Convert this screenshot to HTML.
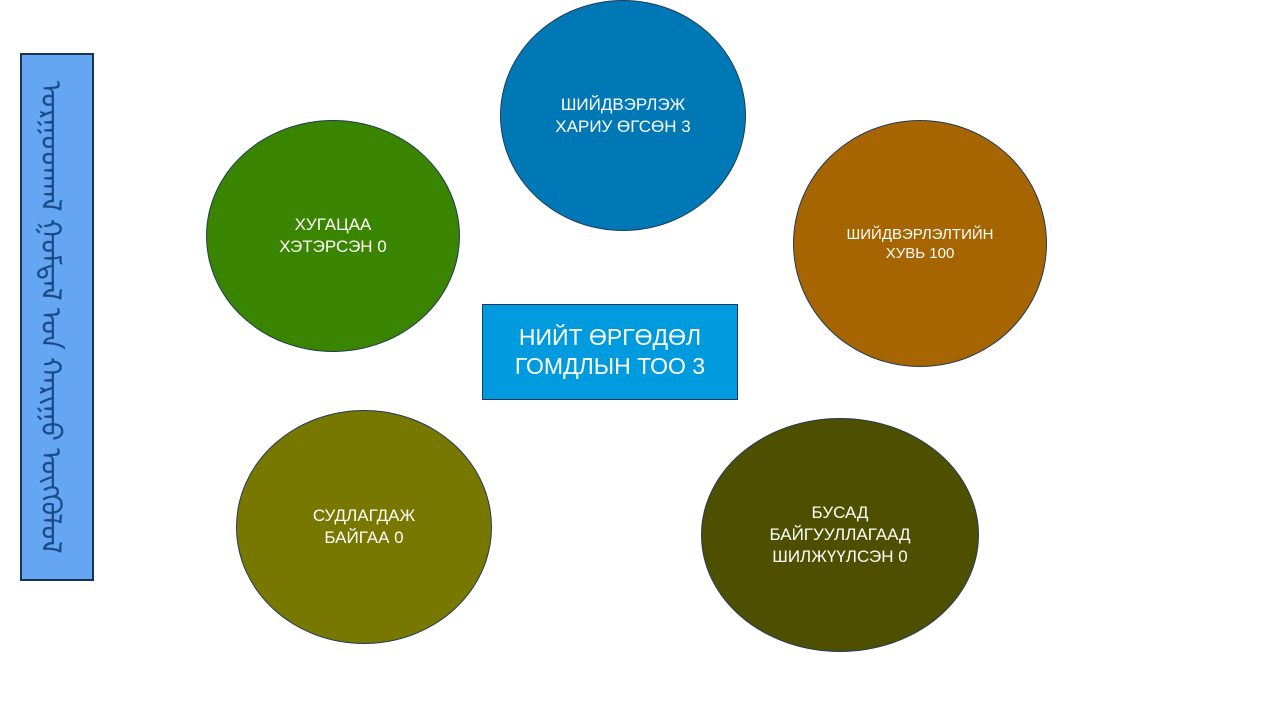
<!DOCTYPE html>
<html><head><meta charset="utf-8"><style>
body{margin:0;width:1280px;height:720px;background:#fff;position:relative;overflow:hidden;font-family:"Liberation Sans",Arial,sans-serif}
.e{position:absolute;border-radius:50%;border:1.5px solid #1f3b5a;box-sizing:border-box;display:flex;align-items:center;justify-content:center;text-align:center;color:#fff;font-size:17px;line-height:22px}
</style></head><body>
<div style="position:absolute;left:20px;top:53px;width:74px;height:528px;background:#64a6f2;border:2px solid #173452;box-sizing:border-box;display:flex;align-items:center;justify-content:center">
<div style="writing-mode:vertical-lr;color:#1a4a8a;font-size:28px;font-family:'Noto Sans Mongolian','DejaVu Sans',sans-serif;white-space:nowrap">ᠣᠷᠭᠣᠳᠬᠠᠯ ᠭᠣᠮᠳᠠᠯ ᠤᠨ ᠬᠠᠷᠢᠭᠤ ᠥᠭᠭᠦᠯᠦᠯ</div></div>
<div class="e" style="left:500px;top:0;width:246px;height:231px;background:#0078b6">ШИЙДВЭРЛЭЖ<br>ХАРИУ ӨГСӨН 3</div>
<div class="e" style="left:793px;top:120px;width:254px;height:247px;background:#a66500;font-size:15px;line-height:19px">ШИЙДВЭРЛЭЛТИЙН<br>ХУВЬ 100</div>
<div class="e" style="left:206px;top:120px;width:254px;height:232px;background:#3a8500">ХУГАЦАА<br>ХЭТЭРСЭН 0</div>
<div class="e" style="left:236px;top:410px;width:256px;height:234px;background:#787800">СУДЛАГДАЖ<br>БАЙГАА 0</div>
<div class="e" style="left:701px;top:418px;width:278px;height:234px;background:#4e5000">БУСАД<br>БАЙГУУЛЛАГААД<br>ШИЛЖҮҮЛСЭН 0</div>
<div style="position:absolute;left:482px;top:304px;width:256px;height:96px;background:#009ade;border:1.5px solid #1f3b5a;box-sizing:border-box;display:flex;align-items:center;justify-content:center;text-align:center;color:#fff;font-size:23px;line-height:29px">НИЙТ ӨРГӨДӨЛ<br>ГОМДЛЫН ТОО 3</div>
</body></html>
